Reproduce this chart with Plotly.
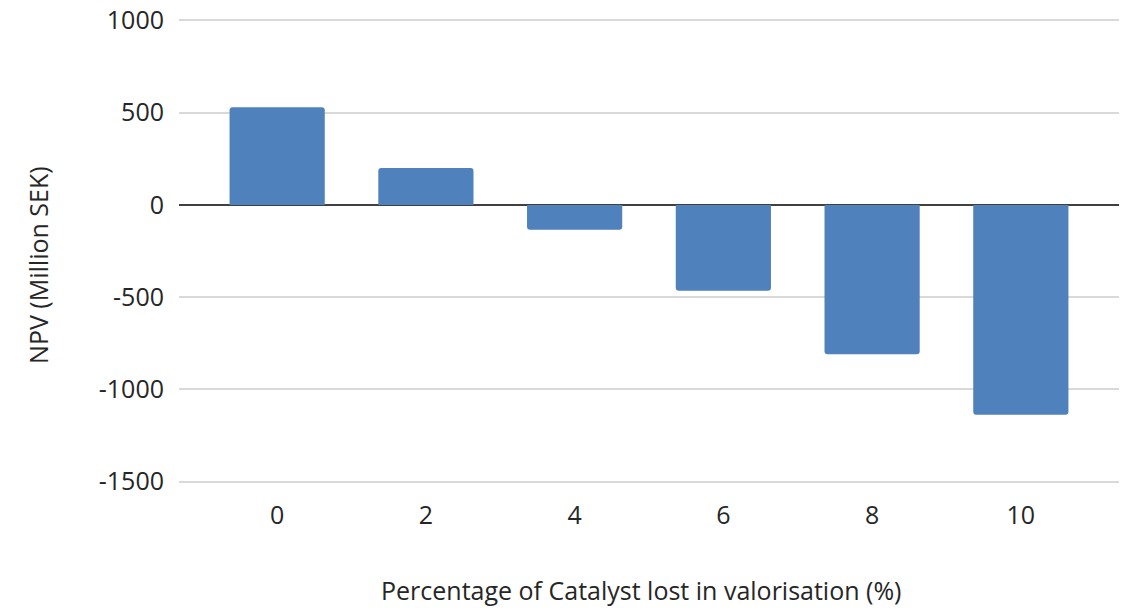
import plotly.graph_objects as go

categories = ["0", "2", "4", "6", "8", "10"]
npv_values = [530, 200, -135, -465, -810, -1138]
y_ticks = [1000, 500, 0, -500, -1000, -1500]
y_tick_text = ["1000", "500", "0", "-500", "-1000", "-1500"]
x_title = "Percentage of Catalyst lost in valorisation (%)"
y_title = "NPV (Million SEK)"

x_pos = list(range(len(categories)))

fig = go.Figure()
fig.add_trace(go.Bar(
    x=x_pos, y=npv_values, width=0.64,
    marker=dict(color="#4f81bd", cornerradius=3, line=dict(width=0)),
))

font_family = "Open Sans"
text_color = "#262626"
fig.update_layout(
    width=1130, height=611,
    margin=dict(l=179, r=11, t=18.5, b=127.5),
    plot_bgcolor="white", paper_bgcolor="white",
    showlegend=False,
    font=dict(family=font_family, size=25, color=text_color),
    xaxis=dict(
        tickmode="array", tickvals=x_pos, ticktext=categories,
        range=[-0.66, 5.66], showgrid=False, zeroline=False, showline=False,
        ticks="", ticklabelstandoff=15, automargin=False,
    ),
    yaxis=dict(
        range=[-1508, 1008], tickmode="array", tickvals=y_ticks, ticktext=y_tick_text,
        showgrid=True, gridcolor="#d9d9d9", gridwidth=2,
        zeroline=True, zerolinecolor="#404040", zerolinewidth=2,
        showline=False, ticks="", ticklabelstandoff=14, automargin=False,
        ticklabeloverflow="allow",
    ),
    annotations=[
        dict(text=x_title, xref="paper", yref="paper", x=0.492, y=-0.231,
             xanchor="center", yanchor="middle", showarrow=False,
             font=dict(size=25, color=text_color, family=font_family)),
        dict(text=y_title, xref="paper", yref="paper", x=-0.15, y=0.47,
             xanchor="center", yanchor="middle", showarrow=False, textangle=-90,
             font=dict(size=25, color=text_color, family=font_family)),
    ],
)

fig.write_html("out.html", config={"displayModeBar": False},
               post_script="document.body.style.margin='0';")
